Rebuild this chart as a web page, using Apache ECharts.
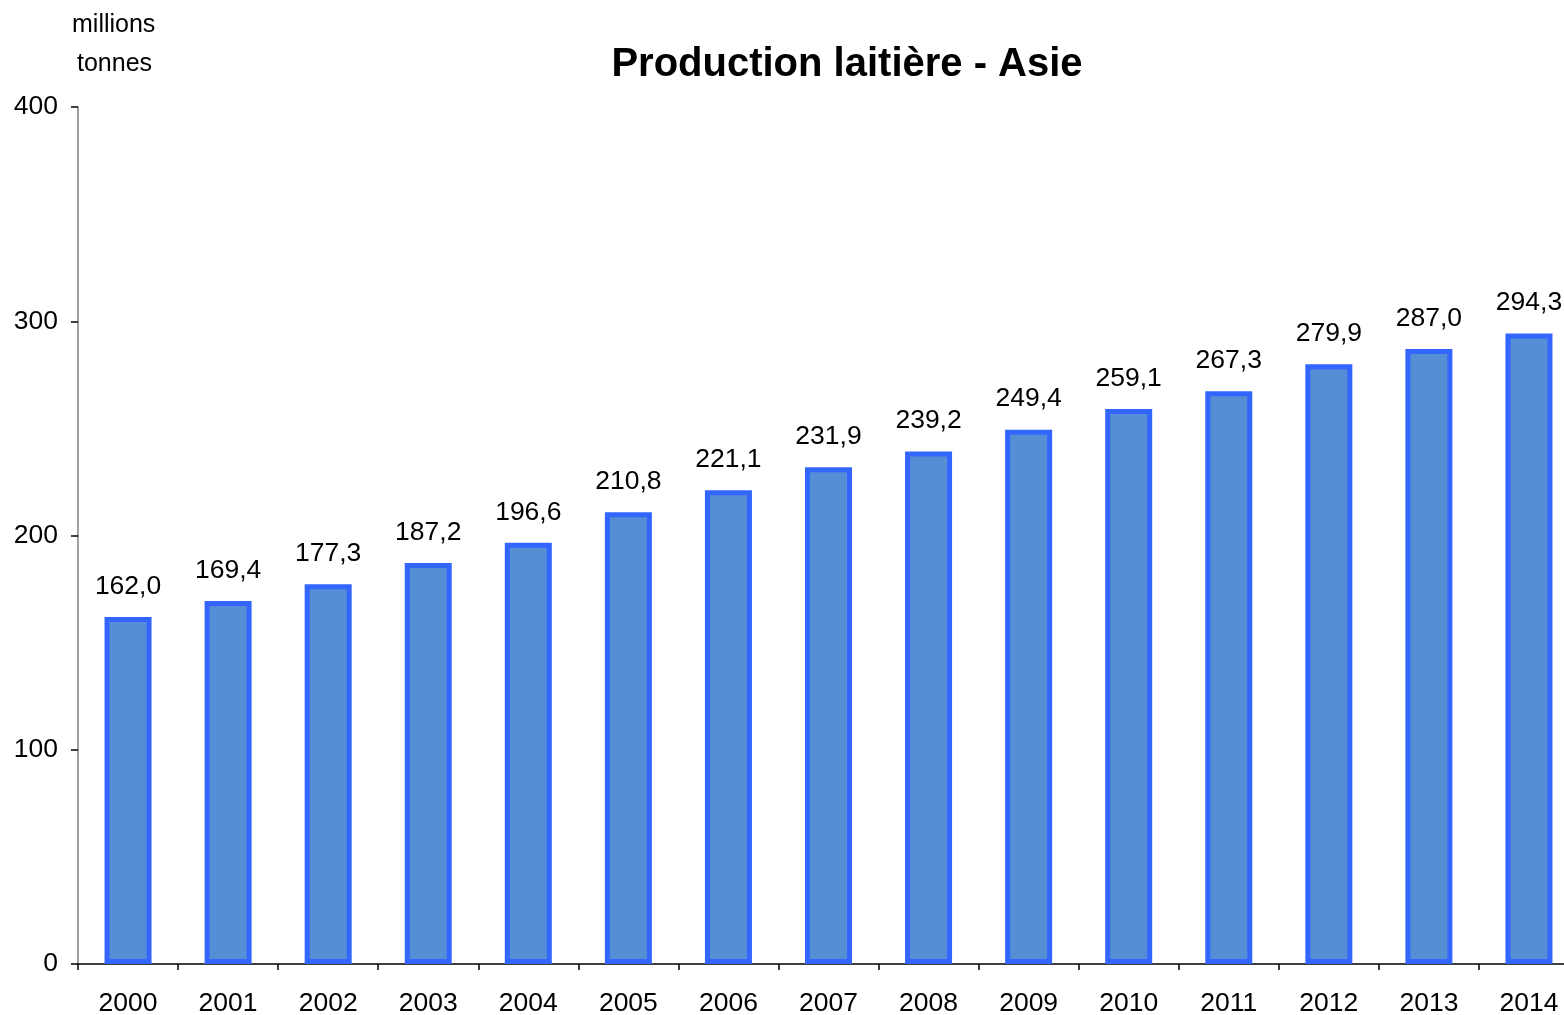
<!DOCTYPE html>
<html>
<head>
<meta charset="utf-8">
<script src="https://cdn.jsdelivr.net/npm/echarts@6/dist/echarts.min.js"></script>
<style>
  html, body { margin: 0; padding: 0; background: #fff; }
  #chart { width: 1564px; height: 1015px; }
</style>
</head>
<body>
<div id="chart"></div>
<script>
const years = ['2000', '2001', '2002', '2003', '2004', '2005', '2006', '2007',
  '2008', '2009', '2010', '2011', '2012', '2013', '2014']
const production = [162.0, 169.4, 177.3, 187.2, 196.6, 210.8, 221.1, 231.9,
  239.2, 249.4, 259.1, 267.3, 279.9, 287.0, 294.3]
const yTicks = [0, 100, 200, 300, 400]

const font = '"Liberation Sans", Arial, sans-serif'
const chart = echarts.init(document.getElementById('chart'))

chart.setOption({
  animation: false,
  textStyle: { fontFamily: font },
  title: {
    text: 'Production laitière - Asie',
    left: 842,
    top: 40,
    textAlign: 'center',
    textStyle: { fontSize: 40, fontWeight: 'bold', color: '#000', fontFamily: font },
  },
  graphic: [
    {
      type: 'text',
      left: 72,
      top: 13,
      style: { text: 'millions', fill: '#000', font: '25px ' + font },
    },
    {
      type: 'text',
      left: 77,
      top: 52,
      style: { text: 'tonnes', fill: '#000', font: '25px ' + font },
    },
  ],
  grid: {
    top: 107,
    bottom: 51,
    left: 78,
    width: 1501,
    containLabel: false,
    outerBoundsMode: 'none',
  },
  xAxis: {
    type: 'category',
    data: years,
    axisLine: { lineStyle: { color: '#000', width: 1.5 } },
    axisTick: { show: true, length: 6, lineStyle: { color: '#000', width: 1.5 } },
    axisLabel: { color: '#000', fontSize: 26.5, margin: 26, fontFamily: font },
  },
  yAxis: {
    type: 'value',
    min: yTicks[0],
    max: yTicks[yTicks.length - 1],
    interval: 100,
    axisLine: { show: true, lineStyle: { color: '#808080', width: 1.5 } },
    axisTick: { show: true, length: 7, lineStyle: { color: '#000', width: 1.5 } },
    axisLabel: { color: '#000', fontSize: 26.5, margin: 20, fontFamily: font },
    splitLine: { show: false },
  },
  series: [
    {
      type: 'bar',
      data: production,
      barWidth: 47,
      itemStyle: {
        color: '#558ED5',
        borderColor: '#3366FF',
        borderWidth: 5,
      },
      label: {
        show: true,
        position: 'top',
        distance: 17,
        color: '#000',
        fontSize: 26.5,
        fontFamily: font,
        formatter: p => p.value.toFixed(1).replace('.', ','),
      },
    },
  ],
})
</script>
</body>
</html>
